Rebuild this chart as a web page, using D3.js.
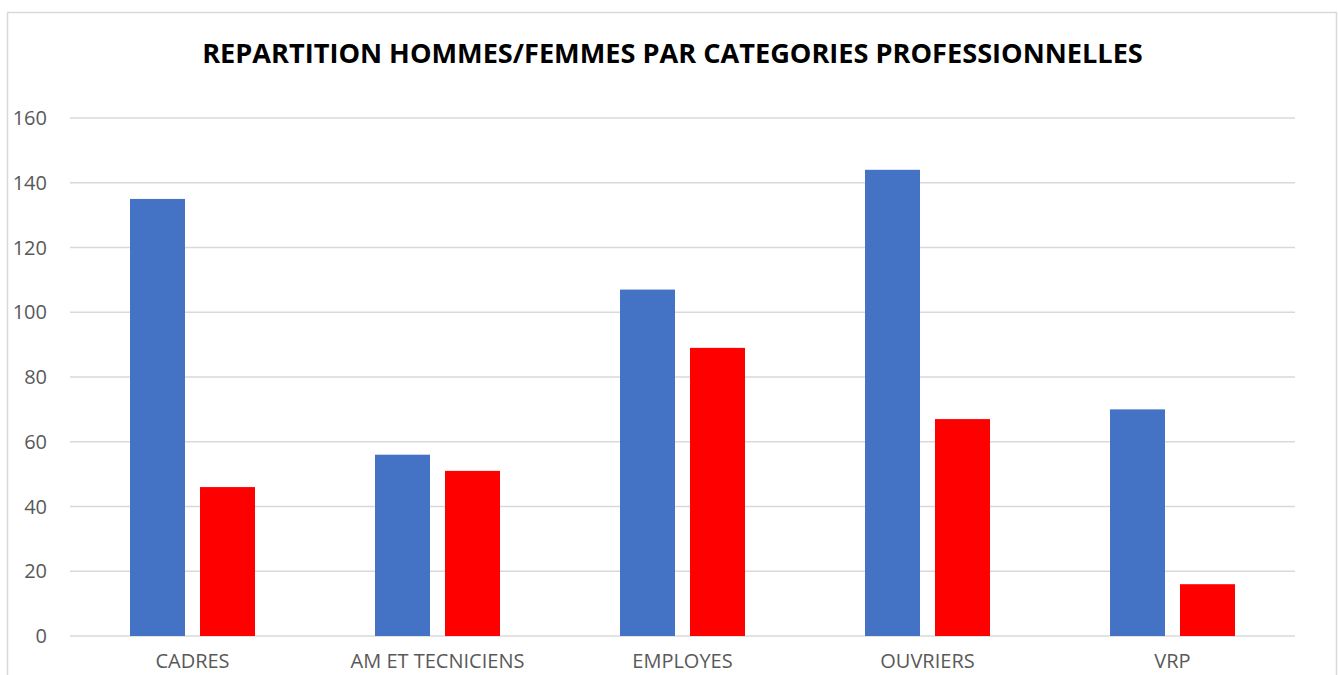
<!DOCTYPE html>
<html>
<head>
<meta charset="utf-8">
<script src="https://cdn.jsdelivr.net/npm/d3@7"></script>
<style>
  body { margin: 0; background: #fff; overflow: hidden; }
  svg { display: block; font-family: "Open Sans", "Noto Sans", sans-serif; }
</style>
</head>
<body>
<svg id="chart" width="1338" height="675"></svg>
<script>
// chart data
const title = "REPARTITION HOMMES/FEMMES PAR CATEGORIES PROFESSIONNELLES";
const categories = ["CADRES", "AM ET TECNICIENS", "EMPLOYES", "OUVRIERS", "VRP"];
const hommes = [135, 56, 107, 144, 70];
const femmes = [46, 51, 89, 67, 16];
const yTicks = [0, 20, 40, 60, 80, 100, 120, 140, 160];
const seriesColors = ["#4472C4", "#FF0000"];

const svg = d3.select("#chart");

// chart frame
svg.append("rect")
    .attr("x", 7.5).attr("y", 12.5)
    .attr("width", 1329).attr("height", 700)
    .attr("fill", "#fff")
    .attr("stroke", "#d9d9d9")
    .attr("stroke-width", 1.5);

const plot = { left: 70, right: 1295, top: 118, bottom: 636 };

const x = d3.scaleBand()
    .domain(categories)
    .range([plot.left, plot.right]);

// two bars of 55px with a 15px gap, centred in each band
const inner = d3.scaleBand()
    .domain([0, 1])
    .range([60, x.bandwidth() - 60])
    .paddingInner(15 / 70);

const y = d3.scaleLinear()
    .domain([0, 160])
    .range([plot.bottom, plot.top]);

// gridlines
svg.append("g")
    .selectAll("line")
    .data(yTicks)
    .join("line")
    .attr("x1", plot.left).attr("x2", plot.right)
    .attr("y1", d => y(d)).attr("y2", d => y(d))
    .attr("stroke", "#d9d9d9")
    .attr("stroke-width", 1.5);

// y tick labels
svg.append("g")
    .selectAll("text")
    .data(yTicks)
    .join("text")
    .attr("x", 47)
    .attr("y", d => y(d) + 7)
    .attr("text-anchor", "end")
    .attr("font-size", 20)
    .attr("fill", "#595959")
    .text(d => d);

// bars
const rows = categories.map((c, i) => ({ cat: c, vals: [hommes[i], femmes[i]] }));
const groups = svg.append("g")
    .selectAll("g")
    .data(rows)
    .join("g")
    .attr("transform", d => `translate(${x(d.cat)},0)`);

groups.selectAll("rect")
    .data(d => d.vals.map((v, s) => ({ v, s })))
    .join("rect")
    .attr("x", d => inner(d.s))
    .attr("width", inner.bandwidth())
    .attr("y", d => y(d.v))
    .attr("height", d => y(0) - y(d.v))
    .attr("fill", d => seriesColors[d.s]);

// category labels (kept just inside the bottom edge)
svg.append("g")
    .selectAll("text")
    .data(categories)
    .join("text")
    .attr("x", d => x(d) + x.bandwidth() / 2)
    .attr("y", 668)
    .attr("text-anchor", "middle")
    .attr("font-size", 20)
    .attr("fill", "#595959")
    .text(d => d);

// title, sized to span the same width as the original
const t = svg.append("text")
    .attr("x", 672.5)
    .attr("y", 63)
    .attr("text-anchor", "middle")
    .attr("font-size", 24)
    .attr("font-weight", "bold")
    .attr("fill", "#000")
    .text(title);
const w = t.node().getComputedTextLength();
t.attr("font-size", 24 * 941 / w);
</script>
</body>
</html>
